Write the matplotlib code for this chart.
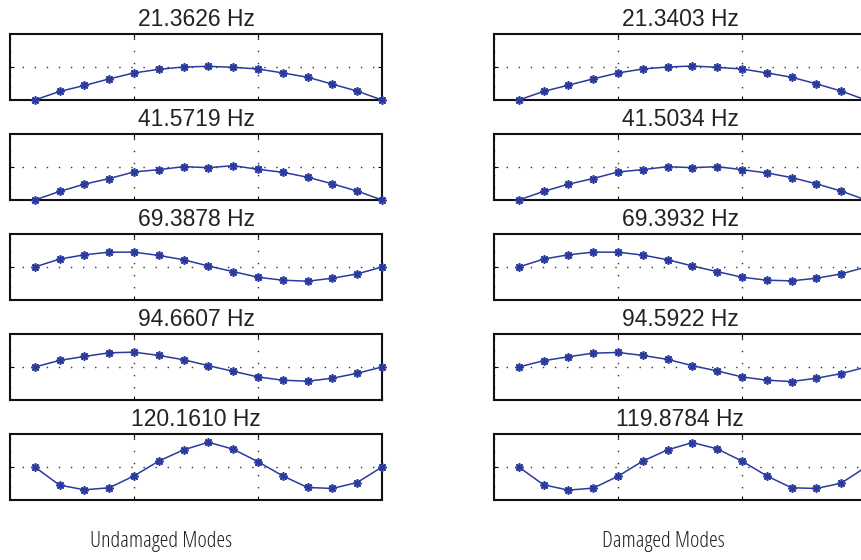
import matplotlib
matplotlib.use("Agg")
import matplotlib.pyplot as plt
import numpy as np

# Mode shapes sampled at 15 stations along the member (normalised amplitudes)
stations = list(range(1, 16))

undamaged_freqs = ["21.3626 Hz", "41.5719 Hz", "69.3878 Hz", "94.6607 Hz", "120.1610 Hz"]
damaged_freqs = ["21.3403 Hz", "41.5034 Hz", "69.3932 Hz", "94.5922 Hz", "119.8784 Hz"]

und_mode1 = [0, 0.26, 0.44, 0.64, 0.82, 0.93, 1.00, 1.02, 0.99, 0.94, 0.82, 0.69, 0.48, 0.27, 0]
und_mode2 = [0, 0.26, 0.48, 0.65, 0.85, 0.92, 1.01, 0.98, 1.04, 0.93, 0.84, 0.69, 0.49, 0.27, 0]
und_mode3 = [0, 0.24, 0.37, 0.45, 0.45, 0.35, 0.22, 0.03, -0.14, -0.31, -0.40, -0.43, -0.34, -0.21, 0]
und_mode4 = [0, 0.20, 0.32, 0.43, 0.45, 0.35, 0.22, 0.04, -0.13, -0.30, -0.40, -0.43, -0.34, -0.19, 0]
und_mode5 = [0, -0.55, -0.69, -0.63, -0.27, 0.18, 0.52, 0.75, 0.54, 0.16, -0.27, -0.62, -0.65, -0.47, 0]

dam_mode1 = [0, 0.26, 0.45, 0.64, 0.82, 0.94, 1.00, 1.03, 0.99, 0.94, 0.82, 0.69, 0.49, 0.27, 0]
dam_mode2 = [0, 0.26, 0.48, 0.65, 0.85, 0.92, 1.01, 0.98, 1.01, 0.92, 0.82, 0.68, 0.49, 0.27, 0]
dam_mode3 = [0, 0.24, 0.37, 0.45, 0.45, 0.36, 0.22, 0.03, -0.14, -0.31, -0.40, -0.42, -0.34, -0.21, 0]
dam_mode4 = [0, 0.19, 0.31, 0.42, 0.44, 0.35, 0.23, 0.04, -0.12, -0.30, -0.40, -0.44, -0.34, -0.20, 0]
dam_mode5 = [0, -0.54, -0.70, -0.64, -0.28, 0.18, 0.52, 0.74, 0.55, 0.18, -0.27, -0.63, -0.65, -0.49, 0]

undamaged = [und_mode1, und_mode2, und_mode3, und_mode4, und_mode5]
damaged = [dam_mode1, dam_mode2, dam_mode3, dam_mode4, dam_mode5]
ylims = [(0, 2), (0, 2), (-1, 1), (-1, 1), (-1, 1)]

W, H = 861, 560
fig = plt.figure(figsize=(W / 100, H / 100), dpi=100)

line_color = "#2b3a9e"
grid_style = (0, (1.0, 7.7))
ax_w, ax_h = 372, 66
col_left = [10, 494]
row_top = [34, 134, 234, 334, 434]


def draw_panel(ax, values, title, ylim):
    ax.plot(stations, values, color=line_color, lw=1.1, marker=(8, 2, 0),
            ms=6, mew=1.2, clip_on=False, zorder=3)
    ax.set_xlim(0, 15)
    ax.set_ylim(*ylim)
    ax.set_xticks([0, 5, 10, 15])
    ax.set_yticks([(ylim[0] + ylim[1]) / 2])
    ax.tick_params(direction="in", length=3, width=0.8, top=True, right=True,
                   labelbottom=False, labelleft=False)
    ax.grid(True, color="#333333", linestyle=grid_style, linewidth=1.0)
    for sp in ax.spines.values():
        sp.set_linewidth(1.5)
        sp.set_color("#111111")
    ax.set_title(title, fontsize=16.5, family="Liberation Sans",
                 color="#222222", pad=6)


for col, (modes, titles) in enumerate([(undamaged, undamaged_freqs),
                                        (damaged, damaged_freqs)]):
    for row in range(5):
        x0 = col_left[col] / W
        y0 = 1 - (row_top[row] + ax_h) / H
        ax = fig.add_axes([x0, y0, ax_w / W, ax_h / H])
        draw_panel(ax, modes[row], titles[row], ylims[row])

label_kw = dict(ha="center", va="center", fontsize=16, family="Open Sans",
                fontstretch="condensed", fontweight=500, color="#222222")
fig.text(161 / W, 1 - 541 / H, "Undamaged Modes", **label_kw)
fig.text(663 / W, 1 - 541 / H, "Damaged Modes", **label_kw)

fig.savefig("out.png", dpi=100)
